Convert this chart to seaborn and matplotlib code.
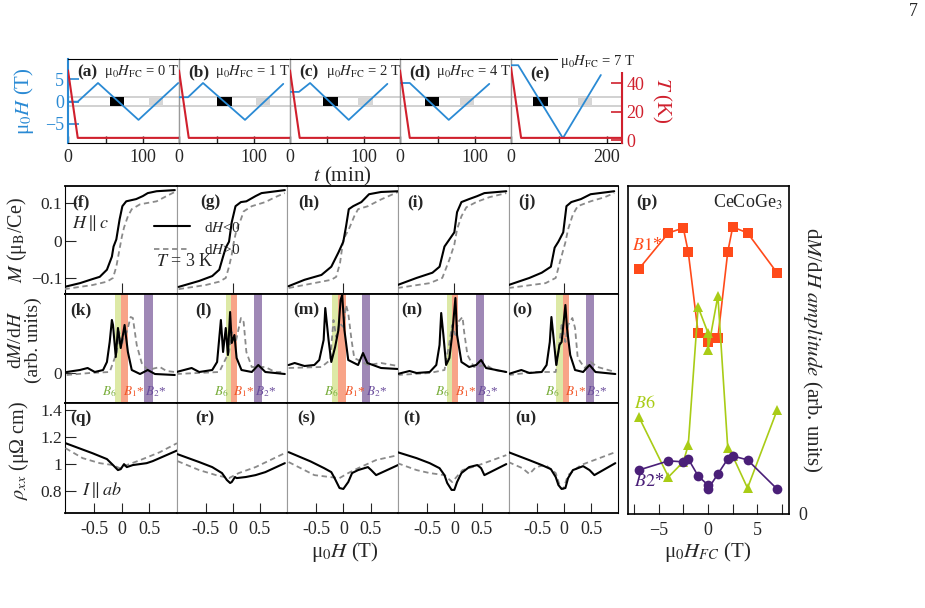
import numpy as np
import pandas as pd
import matplotlib
matplotlib.use('Agg')
import matplotlib.pyplot as plt
import seaborn as sns

sns.set_style('ticks')
plt.rcParams['font.family'] = ['Liberation Serif', 'DejaVu Serif']
plt.rcParams['mathtext.fontset'] = 'stix'
plt.rcParams['xtick.direction'] = 'in'
plt.rcParams['ytick.direction'] = 'in'

# ---------------- data: top row (field / temperature protocols) ----------------
fc_labels = ['0', '1', '2', '4', '7']
top_letters = ['(a)', '(b)', '(c)', '(d)', '(e)']
t_a = [0, 13, 40, 94, 147];  H_a = [0, 0, 4.2, -4.1, 4.2]
t_b = [0, 12, 32, 88, 139];  H_b = [1, 1, 4.2, -4.1, 4.0]
t_c = [0, 12, 27, 79, 131];  H_c = [2.2, 2.2, 4.2, -4.1, 4.0]
t_d = [0, 13, 65, 119];      H_d = [4.2, 4.2, -4.1, 4.0]
t_e = [0, 15, 108, 187];     H_e = [8.2, 8.2, -8.2, 6.0]
tT_ad = [0, 13, 148];        T_ad = [49, 1.5, 1.5]
tT_e = [0, 21, 231];         T_e = [51, 1.5, 1.5]
black_win = [(56, 75), (51, 71), (45, 65), (33, 52), (46, 77)]
grey_win = [(108, 127), (103, 121), (92, 112), (80, 99), (140, 169)]

# ---------------- data: M(H) ----------------
Hf_dn = [-1.04, -0.76, -0.53, -0.4, -0.27, -0.18, -0.15, -0.1, -0.04, 0.01, 0.08, 0.26, 0.38, 0.47, 0.63, 0.96]
Mf_dn = [-0.124, -0.114, -0.103, -0.097, -0.078, -0.043, -0.016, 0.003, 0.057, 0.092, 0.105, 0.111, 0.119, 0.127, 0.132, 0.135]
Hf_up = [-1.04, -0.53, -0.27, -0.16, -0.1, -0.05, 0.0, 0.04, 0.11, 0.18, 0.33, 0.63, 0.81, 0.96]
Mf_up = [-0.13, -0.119, -0.11, -0.1, -0.07, -0.03, 0.01, 0.035, 0.065, 0.084, 0.097, 0.105, 0.119, 0.13]
Hg_dn = [-1.0, -0.62, -0.38, -0.25, -0.18, -0.13, -0.07, -0.02, 0.05, 0.15, 0.25, 0.42, 0.53, 0.96]
Mg_dn = [-0.124, -0.108, -0.095, -0.078, -0.043, -0.019, -0.003, 0.049, 0.092, 0.103, 0.105, 0.119, 0.127, 0.135]
Hg_up = [-1.0, -0.5, -0.25, -0.13, -0.07, -0.02, 0.02, 0.07, 0.15, 0.2, 0.35, 0.6, 0.78, 0.96]
Mg_up = [-0.13, -0.119, -0.11, -0.1, -0.07, -0.038, -0.003, 0.03, 0.057, 0.078, 0.092, 0.103, 0.116, 0.127]
Hh_dn = [-1.0, -0.71, -0.4, -0.22, -0.09, 0.0, 0.05, 0.1, 0.18, 0.33, 0.47, 0.69, 1.0]
Mh_dn = [-0.122, -0.105, -0.092, -0.07, -0.032, -0.003, 0.038, 0.084, 0.092, 0.103, 0.124, 0.13, 0.132]
Hh_up = [-1.0, -0.22, -0.13, -0.06, 0.0, 0.1, 0.2, 0.27, 0.45, 0.69, 1.0]
Mh_up = [-0.127, -0.105, -0.097, -0.06, 0.003, 0.03, 0.065, 0.084, 0.092, 0.11, 0.13]
Hi_dn = [-1.04, -0.69, -0.4, -0.27, -0.18, -0.09, 0.0, 0.05, 0.13, 0.27, 0.42, 0.55, 0.95]
Mi_dn = [-0.119, -0.1, -0.086, -0.07, -0.016, 0.003, 0.022, 0.076, 0.103, 0.111, 0.119, 0.127, 0.132]
Hi_up = [-1.04, -0.45, -0.22, -0.09, 0.0, 0.05, 0.13, 0.22, 0.4, 0.64, 0.95]
Mi_up = [-0.127, -0.114, -0.1, -0.051, -0.011, 0.03, 0.065, 0.089, 0.103, 0.116, 0.127]
Hj_dn = [-1.04, -0.65, -0.42, -0.25, -0.18, -0.11, -0.02, 0.04, 0.13, 0.31, 0.49, 0.93]
Mj_dn = [-0.119, -0.1, -0.086, -0.07, -0.019, -0.003, 0.022, 0.092, 0.103, 0.111, 0.124, 0.132]
Hj_up = [-1.04, -0.35, -0.16, -0.07, 0.02, 0.07, 0.16, 0.25, 0.49, 0.75, 0.93]
Mj_up = [-0.127, -0.114, -0.1, -0.051, -0.005, 0.03, 0.07, 0.092, 0.105, 0.116, 0.127]

# ---------------- data: dM/dH ----------------
Hk_dn = [-1.0, -0.76, -0.62, -0.49, -0.34, -0.27, -0.22, -0.18, -0.16, -0.11, -0.07, -0.02, 0.05, 0.11, 0.18, 0.33, 0.47, 0.6, 0.96]
Dk_dn = [0.1, 0.3, 0.5, 0.1, 0.3, 1.1, 3.1, 5.3, 4.8, 1.6, 4.5, 2.5, 4.8, 2.1, 0.3, -0.1, 0.3, -0.1, -0.2]
Hk_up = [-1.0, -0.58, -0.22, -0.09, -0.05, 0.0, 0.04, 0.09, 0.16, 0.2, 0.27, 0.36, 0.47, 0.69, 0.81, 0.96]
Dk_up = [-0.2, 0.0, 0.1, 2.1, 4.1, 2.8, 3.8, 4.1, 5.6, 5.5, 2.8, 1.0, 0.3, 0.6, 0.2, 0.1]
Hl_dn = [-1.04, -0.76, -0.62, -0.38, -0.29, -0.22, -0.18, -0.13, -0.09, -0.05, -0.02, 0.03, 0.07, 0.16, 0.35, 0.47, 0.6, 0.96]
Dl_dn = [0.1, 0.5, 0.1, 0.3, 1.1, 5.3, 2.1, 4.5, 1.8, 6.1, 3.0, 3.8, 1.5, 0.3, 0.1, 0.8, 0.1, -0.1]
Hl_up = [-1.04, -0.25, -0.07, -0.02, 0.05, 0.15, 0.2, 0.25, 0.35, 0.6, 0.78, 0.96]
Dl_up = [-0.1, 0.1, 2.1, 4.1, 3.0, 5.5, 5.1, 2.1, 0.6, 0.6, 0.1, 0.1]
Hm_dn = [-1.0, -0.89, -0.71, -0.53, -0.44, -0.36, -0.33, -0.27, -0.22, -0.15, -0.09, -0.05, -0.02, 0.02, 0.09, 0.27, 0.36, 0.44, 0.69, 1.0]
Dm_dn = [0.8, 1.0, 0.7, 0.8, 1.3, 3.3, 6.5, 3.3, 1.1, 2.6, 4.3, 7.3, 7.8, 4.3, 1.3, 0.8, 2.0, 1.0, 0.5, 0.4]
Hm_up = [-1.0, -0.4, -0.24, -0.18, -0.13, -0.07, 0.0, 0.05, 0.09, 0.15, 0.2, 0.45, 0.69, 1.0]
Dm_up = [0.5, 0.6, 1.3, 5.3, 3.6, 5.0, 4.6, 6.8, 6.0, 3.3, 1.5, 0.8, 1.0, 0.7]
Hn_dn = [-1.04, -0.82, -0.69, -0.45, -0.33, -0.27, -0.24, -0.2, -0.15, -0.09, -0.04, 0.02, 0.05, 0.13, 0.27, 0.4, 0.49, 0.58, 0.95]
Dn_dn = [-0.1, 0.2, 0.0, 0.1, 0.8, 2.8, 6.0, 3.8, 0.8, 1.5, 3.8, 7.5, 3.8, 1.1, 0.6, 0.8, 1.3, 0.5, 0.1]
Hn_up = [-1.04, -0.45, -0.18, -0.09, -0.04, 0.02, 0.07, 0.15, 0.18, 0.24, 0.36, 0.58, 0.73, 0.95]
Dn_up = [-0.2, 0.0, 0.3, 3.0, 4.8, 3.8, 5.1, 5.6, 4.1, 1.8, 0.6, 0.8, 0.3, 0.1]
Ho_dn = [-1.04, -0.8, -0.65, -0.42, -0.33, -0.27, -0.24, -0.2, -0.15, -0.09, -0.05, 0.02, 0.05, 0.11, 0.2, 0.35, 0.47, 0.58, 0.95]
Do_dn = [-0.1, 0.3, 0.0, 0.1, 0.8, 3.1, 5.6, 3.5, 0.8, 2.8, 3.1, 6.8, 4.5, 1.8, 0.3, 0.1, 0.8, 0.1, -0.1]
Ho_up = [-1.04, -0.53, -0.16, -0.11, -0.05, 0.02, 0.07, 0.15, 0.2, 0.25, 0.38, 0.49, 0.62, 0.95]
Do_up = [-0.2, 0.1, 0.1, 2.1, 4.8, 3.1, 4.8, 5.5, 4.5, 1.5, 0.5, 1.1, 0.6, 0.1]

# band positions (T): B6, B1*, B2*
band_B6 = [(-0.12, -0.01), (-0.13, -0.04), (-0.20, -0.09), (-0.13, -0.04), (-0.15, -0.02)]
band_B1 = [(-0.01, 0.11), (-0.04, 0.07), (-0.09, 0.04), (-0.04, 0.07), (-0.02, 0.09)]
band_B2 = [(0.41, 0.57), (0.40, 0.53), (0.35, 0.49), (0.40, 0.55), (0.40, 0.55)]

# ---------------- data: rho_xx ----------------
Hq_dn = [-1.02, -0.53, -0.27, -0.16, -0.07, -0.02, 0.04, 0.09, 0.2, 0.45, 0.56, 1.0]
Rq_dn = [1.154, 1.08, 1.037, 0.993, 0.956, 0.963, 1.0, 0.978, 0.993, 1.007, 1.022, 1.1]
Hq_up = [-1.02, -0.71, -0.4, -0.16, -0.04, 0.09, 0.33, 0.69, 1.0]
Rq_up = [1.117, 1.044, 1.007, 0.993, 0.97, 0.993, 1.029, 1.088, 1.154]
Hr_dn = [-1.02, -0.62, -0.38, -0.2, -0.11, -0.05, -0.02, 0.04, 0.07, 0.24, 0.42, 0.6, 0.96]
Rr_dn = [1.073, 1.015, 0.978, 0.934, 0.883, 0.861, 0.868, 0.905, 0.897, 0.905, 0.919, 0.941, 1.007]
Hr_up = [-1.02, -0.62, -0.31, -0.07, 0.11, 0.42, 0.96]
Rr_up = [1.022, 0.956, 0.919, 0.897, 0.934, 0.978, 1.081]
Hs_dn = [-1.0, -0.6, -0.35, -0.22, -0.16, -0.07, 0.0, 0.09, 0.16, 0.27, 0.45, 0.51, 0.6, 1.0]
Rs_dn = [1.088, 1.02, 0.97, 0.941, 0.897, 0.824, 0.817, 0.868, 0.934, 0.956, 0.978, 0.956, 0.919, 0.993]
Hs_up = [-1.0, -0.53, -0.25, -0.07, 0.09, 0.27, 0.6, 1.0]
Rs_up = [1.015, 0.919, 0.905, 0.897, 0.934, 0.97, 1.03, 1.066]
Ht_dn = [-1.04, -0.69, -0.45, -0.27, -0.18, -0.13, -0.05, 0.0, 0.05, 0.13, 0.27, 0.42, 0.49, 0.55, 0.95]
Rt_dn = [1.088, 1.044, 1.007, 0.97, 0.919, 0.861, 0.81, 0.81, 0.868, 0.934, 0.978, 0.993, 0.97, 0.919, 1.0]
Ht_up = [-1.04, -0.69, -0.45, -0.18, -0.04, 0.15, 0.45, 0.95]
Rt_up = [1.007, 0.956, 0.934, 0.919, 0.868, 0.956, 0.993, 1.066]
Hu_dn = [-1.04, -0.65, -0.42, -0.25, -0.16, -0.11, -0.05, 0.02, 0.07, 0.16, 0.35, 0.47, 0.56, 0.95]
Ru_dn = [1.088, 1.029, 0.993, 0.963, 0.905, 0.846, 0.817, 0.824, 0.897, 0.956, 0.985, 0.956, 0.919, 1.007]
Hu_up = [-1.04, -0.78, -0.65, -0.53, -0.35, -0.16, -0.07, -0.02, 0.07, 0.31, 0.95]
Ru_up = [1.015, 0.97, 0.927, 0.978, 0.993, 0.934, 0.824, 0.817, 0.919, 0.993, 1.088]

# ---------------- data: panel (p) ----------------
H_FC = [-7, -4, -2.5, -2, -1, 0, 0, 1, 2, 2.5, 4, 7]
amp_B1 = [0.747, 0.857, 0.872, 0.799, 0.552, 0.537, 0.524, 0.537, 0.799, 0.875, 0.857, 0.735]
amp_B6 = [0.296, 0.113, 0.159, 0.210, 0.631, 0.552, 0.500, 0.665, 0.201, 0.177, 0.079, 0.317]
amp_B2 = [0.134, 0.162, 0.159, 0.168, 0.116, 0.088, 0.076, 0.122, 0.168, 0.177, 0.165, 0.076]

# ---------------- style ----------------
BLUE = '#2a8ad4'; RED = '#d0202d'; SEP = '#9a9a9a'
C_B6 = '#a9cc16'; C_B1 = '#ff4a1a'; C_B2 = '#4a1f78'
BAND6 = '#dde9a6'; BAND1 = '#f8a488'; BAND2 = '#9f88b6'
LAB6 = '#7aae3c'; LAB1 = '#f2582a'; LAB2 = '#6b4d9c'
TS = 13

W, Hh = 925, 608
fig = plt.figure(figsize=(9.25, 6.08), dpi=100)


def add_ax(x0, y0, x1, y1):
    return fig.add_axes([x0 / W, 1 - y1 / Hh, (x1 - x0) / W, (y1 - y0) / Hh])


def ftext(x, y, s, **kw):
    kw.setdefault('va', 'center')
    return fig.text(x / W, 1 - y / Hh, s, **kw)


def line(ax, x, y, **kw):
    sns.lineplot(x=x, y=y, ax=ax, sort=False, estimator=None, **kw)


# ---------------- top row ----------------
top_x = [68, 179, 290, 400, 511, 622]
sweep_t = [t_a, t_b, t_c, t_d, t_e]
sweep_H = [H_a, H_b, H_c, H_d, H_e]
for i in range(5):
    ax = add_ax(top_x[i], 59, top_x[i + 1], 143)
    tmax = 231 if i == 4 else 148
    ax.set_xlim(0, tmax)
    ax.set_ylim(-9.3, 9.6)
    ax2 = ax.twinx()
    ax2.set_ylim(-2.1, 57)
    ax.axhline(1, color='#c9c9c9', lw=1.2, zorder=1)
    ax.axhline(-1, color='#c9c9c9', lw=1.2, zorder=1)
    b0, b1 = black_win[i]
    g0, g1 = grey_win[i]
    ax.fill_between([b0, b1], -1, 1, color='black', lw=0, zorder=2)
    ax.fill_between([g0, g1], -1, 1, color='#d6d6d6', lw=0, zorder=2)
    line(ax, sweep_t[i], sweep_H[i], color=BLUE, lw=1.3, zorder=3)
    if i == 4:
        line(ax2, tT_e, T_e, color=RED, lw=1.5)
    else:
        line(ax2, tT_ad, T_ad, color=RED, lw=1.5)
    for s in ['top', 'bottom']:
        ax.spines[s].set_color('black')
        ax2.spines[s].set_visible(False)
    ax2.spines['left'].set_visible(False)
    ax.spines['left'].set_color(BLUE if i == 0 else SEP)
    ax.spines['left'].set_linewidth(1.5 if i == 0 else 1.0)
    ax.spines['right'].set_color(SEP)
    if i == 4:
        ax2.spines['right'].set_color(RED)
        ax2.spines['right'].set_linewidth(1.5)
        ax2.set_yticks([0, 20, 40])
        ax2.set_yticklabels(['0', '20', '40'])
        ax2.tick_params(axis='y', colors=RED, labelsize=TS, length=8, width=1.2, direction='in', pad=3)
    else:
        ax2.spines['right'].set_visible(False)
        ax2.set_yticks([])
    if i == 0:
        ax.set_yticks([-5, 0, 5])
        ax.set_yticklabels(['−5', '0', '5'])
        ax.tick_params(axis='y', colors=BLUE, labelsize=TS, length=8, width=1.2, pad=3)
    else:
        ax.set_yticks([])
    if i == 4:
        ax.set_xticks([0, 100, 200])
        ax.set_xticklabels(['0', '', '200'])
    else:
        ax.set_xticks([0, 50, 100])
        ax.set_xticklabels(['0', '', '100'])
    ax.tick_params(axis='x', labelsize=TS, length=5, width=1.0, pad=4)
    ax.set_xlabel(''); ax.set_ylabel(''); ax2.set_ylabel('')
    x0 = top_x[i]
    if i < 4:
        ftext(x0 + 9, 72, top_letters[i], fontsize=12.5, fontweight='bold')
        ftext(x0 + 36, 72, 'μ$_0$$H_{\\rm FC}$ = ' + fc_labels[i] + ' T', fontsize=10.5)
    else:
        ftext(x0 + 19, 74, top_letters[i], fontsize=12.5, fontweight='bold')
        ftext(560, 61, 'μ$_0$$H_{\\rm FC}$ = ' + fc_labels[i] + ' T', fontsize=10.5,
              bbox=dict(facecolor='white', edgecolor='none', pad=1.5), zorder=10)

ftext(24, 101, 'μ$_0$$H$ (T)', color=BLUE, fontsize=15, rotation=90, ha='center')
ftext(662, 100, '$T$ (K)', color=RED, fontsize=15, rotation=270, ha='center')
ftext(342, 176, '$t$ (min)', fontsize=15, ha='center')

# ---------------- middle grid ----------------
mid_x = [65, 177, 287, 398, 509, 618]
rows_y = [(186, 294), (294, 403), (403, 513)]
M_dn = [(Hf_dn, Mf_dn), (Hg_dn, Mg_dn), (Hh_dn, Mh_dn), (Hi_dn, Mi_dn), (Hj_dn, Mj_dn)]
M_up = [(Hf_up, Mf_up), (Hg_up, Mg_up), (Hh_up, Mh_up), (Hi_up, Mi_up), (Hj_up, Mj_up)]
D_dn = [(Hk_dn, Dk_dn), (Hl_dn, Dl_dn), (Hm_dn, Dm_dn), (Hn_dn, Dn_dn), (Ho_dn, Do_dn)]
D_up = [(Hk_up, Dk_up), (Hl_up, Dl_up), (Hm_up, Dm_up), (Hn_up, Dn_up), (Ho_up, Do_up)]
R_dn = [(Hq_dn, Rq_dn), (Hr_dn, Rr_dn), (Hs_dn, Rs_dn), (Ht_dn, Rt_dn), (Hu_dn, Ru_dn)]
R_up = [(Hq_up, Rq_up), (Hr_up, Rr_up), (Hs_up, Rs_up), (Ht_up, Rt_up), (Hu_up, Ru_up)]
letters = [['(f)', '(g)', '(h)', '(i)', '(j)'],
           ['(k)', '(l)', '(m)', '(n)', '(o)'],
           ['(q)', '(r)', '(s)', '(t)', '(u)']]
let_off = [[7, 23, 11, 9, 9], [5, 18, 6, 3, 3], [5, 18, 10, 5, 6]]
let_y = [202, 310, 418]
ylims = [(-0.143, 0.146), (-3.0, 7.9), (0.64, 1.45)]
DASH = (0, (3, 2))
legend_handles = None
for r in range(3):
    for i in range(5):
        y0, y1 = rows_y[r]
        ax = add_ax(mid_x[i], y0, mid_x[i + 1], y1)
        ax.set_xlim(-1.03, 1.0)
        ax.set_ylim(*ylims[r])
        if r == 1:
            for (lo, hi), c in zip([band_B6[i], band_B1[i], band_B2[i]], [BAND6, BAND1, BAND2]):
                ax.axvspan(lo, hi, color=c, lw=0, zorder=1)
            cx = [-0.22, 0.21, 0.61]
            labs = ['$B_6$', '$B_1$*', '$B_2$*']
            for xx, lb, cc in zip(cx, labs, [LAB6, LAB1, LAB2]):
                ax.text(xx, -1.9, lb, color=cc, fontsize=9.5, ha='center', va='center')
        dn = [M_dn, D_dn, R_dn][r][i]
        up = [M_up, D_up, R_up][r][i]
        line(ax, up[0], up[1], color='#8a8a8a', lw=1.3, linestyle=DASH, zorder=3, label='d$H$>0')
        line(ax, dn[0], dn[1], color='black', lw=1.5, zorder=4, label='d$H$<0')
        if ax.get_legend() is not None:
            ax.get_legend().remove()
        if r == 0 and i == 0:
            legend_handles = ax.get_lines()[::-1]
        ax.set_xlabel(''); ax.set_ylabel('')
        ax.spines['left'].set_color('black' if i == 0 else SEP)
        ax.spines['right'].set_color('black' if i == 4 else SEP)
        for s in ['top', 'bottom']:
            ax.spines[s].set_color('black')
            ax.spines[s].set_linewidth(1.3)
        if r == 2:
            ax.set_xticks([-0.5, 0, 0.5])
            ax.set_xticklabels(['-0.5', '0', '0.5'])
            ax.tick_params(axis='x', labelsize=TS, length=7, pad=6)
        else:
            ax.set_xticks([0])
            ax.set_xticklabels([])
            ax.tick_params(axis='x', length=8)
        if i == 0:
            if r == 0:
                ax.set_yticks([-0.1, 0, 0.1]); ax.set_yticklabels(['−0.1', '0', '0.1'])
            elif r == 1:
                ax.set_yticks([0]); ax.set_yticklabels(['0'])
            else:
                ax.set_yticks([0.8, 1.0, 1.2, 1.4]); ax.set_yticklabels(['0.8', '1', '1.2', '1.4'])
            ax.tick_params(axis='y', labelsize=12.5, length=8, pad=2)
        else:
            ax.set_yticks([])
        ftext(mid_x[i] + let_off[r][i], let_y[r], letters[r][i], fontsize=12.5, fontweight='bold')

fig.legend(legend_handles, ['d$H$<0', 'd$H$>0'], loc='upper left',
           bbox_to_anchor=(146 / W, 1 - 213 / Hh), frameon=False, fontsize=11,
           handlelength=2.4, handletextpad=0.9, labelspacing=0.55, borderpad=0)
ftext(72, 223, '$H\\parallel c$', fontsize=13)
ftext(156, 261, '$T$ = 3 K', fontsize=13)
ftext(82, 490, '$I\\parallel ab$', fontsize=13)

ftext(17, 240, '$M$ (μ$_{\\rm B}$/Ce)', fontsize=14.5, rotation=90, ha='center')
ftext(25, 340, 'd$M$/d$H$\n(arb. units)', fontsize=14, rotation=90, ha='center',
      multialignment='center', linespacing=1.05)
ftext(19, 450, '$\\rho_{xx}$ (μΩ cm)', fontsize=14.5, rotation=90, ha='center')
ftext(345, 552, 'μ$_0$$H$ (T)', fontsize=15, ha='center')

# ---------------- panel (p) ----------------
axp = add_ax(628, 186, 789, 514)
line(axp, H_FC, amp_B1, color=C_B1, lw=1.2, marker='s', markersize=6.5, markeredgewidth=0, zorder=3)
line(axp, H_FC, amp_B6, color=C_B6, lw=1.2, marker='^', markersize=6.5, markeredgewidth=0, zorder=4)
line(axp, H_FC, amp_B2, color=C_B2, lw=1.2, marker='o', markersize=7, markeredgewidth=0, zorder=5)
axp.set_xlim(-8.1, 8.2)
axp.set_ylim(0, 1)
axp.set_xlabel(''); axp.set_ylabel('')
axp.set_xticks([-7.5, -5, -2.5, 0, 2.5, 5, 7.5])
axp.set_xticklabels(['', '−5', '', '0', '', '5', ''])
axp.tick_params(axis='x', labelsize=TS, length=7, pad=6)
axp.yaxis.tick_right()
axp.set_yticks([0]); axp.set_yticklabels(['0'])
axp.tick_params(axis='y', labelsize=TS, length=0, pad=7)
for s in axp.spines.values():
    s.set_color('black'); s.set_linewidth(1.2)
ftext(636, 202, '(p)', fontsize=12.5, fontweight='bold')
ftext(783, 202, 'CeCoGe$_3$', fontsize=13, ha='right')
ftext(632, 246, '$B1$*', fontsize=13, color=C_B1)
ftext(634, 403, '$B6$', fontsize=13, color=C_B6)
ftext(634, 482, '$B2$*', fontsize=13, color=C_B2)
ftext(708, 552, 'μ$_0$$H_{FC}$ (T)', fontsize=15, ha='center')
ftext(812, 350, 'd$M$/d$H$ $amplitude$ (arb. units)', fontsize=15, rotation=270, ha='center')

ftext(913, 12, '7', fontsize=13, ha='center')

fig.savefig('out.png', dpi=100)
